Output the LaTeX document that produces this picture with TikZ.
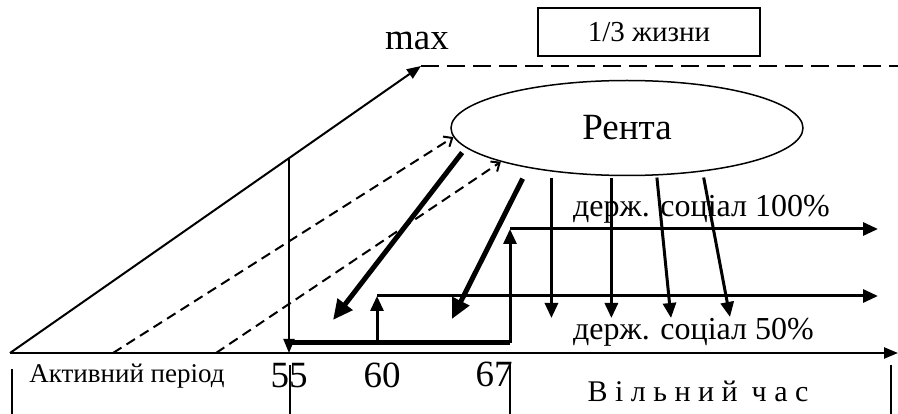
\documentclass[tikz,border=0pt]{standalone}
\usepackage{fontspec}
\setmainfont{Liberation Serif}
\usetikzlibrary{arrows.meta, shapes.geometric, positioning}
\tikzset{
  axisline/.style={line width=2.5pt, -{Triangle[length=14pt,width=11pt]}},
  thinarrow/.style={line width=2pt, -{Triangle[length=14pt,width=11pt]}},
  flow/.style={line width=3pt, -{Triangle[length=15pt,width=13pt]}},
  fatarrow/.style={line width=5pt, -{Triangle[length=20pt,width=18pt]}},
  dashline/.style={line width=2pt, dash pattern=on 10pt off 6pt, -{Straight Barb[length=7pt,width=12pt]}},
  tickline/.style={line width=1.8pt},
}
\begin{document}
\begin{tikzpicture}[x=1pt, y=-1pt,
  big/.style={font=\fontsize{37}{40}\selectfont, inner sep=0pt},
  mid/.style={font=\fontsize{32}{36}\selectfont, inner sep=0pt},
  small/.style={font=\fontsize{27}{30}\selectfont, inner sep=0pt}]
\useasboundingbox (0,0) rectangle (898,414);
% time axis and growth line
\coordinate (o) at (10,353);
\coordinate (xend) at (898,353);
\coordinate (peak) at (421,66);
\coordinate (maxend) at (898,66);
\draw[axisline] (o) -- (xend);
\draw[thinarrow] (o) -- (peak);
\draw[line width=2pt, dash pattern=on 18pt off 8pt] (peak) -- (maxend);
\node[big, anchor=base] (maxlbl) at (417,50) {max};
\node[draw, line width=1.8pt, minimum width=222pt, minimum height=48pt,
  font=\fontsize{29}{31}\selectfont] (third) at (649,32) {1/3 жизни};
\node[ellipse, draw, line width=1.5pt, big, minimum width=352pt, minimum height=95pt] (renta) at (627,128) {Рента};
% labels
\node[mid, anchor=base west] (soc100) at (573,217) {держ. соціал 100\%};
\node[mid, anchor=base west] (soc50) at (573,340) {держ. соціал 50\%};
\node[small, anchor=base] (active) at (127,382) {Активний період};
\node[big, anchor=base] (n55) at (289,388) {55};
\node[big, anchor=base] (n60) at (382,388) {60};
\node[big, anchor=base] (n67) at (494,387) {67};
\node[font=\fontsize{30}{32}\selectfont, inner sep=0pt, anchor=base] (free) at (698,402) {В і л ь н и й\hspace{14pt}ч а с};
\foreach \x/\y in {12/369, 290/365, 510/363, 891/365}
  \draw[tickline] (\x,\y) -- (\x,414);
% retirement at 55
\coordinate (r55) at (289,158);
\coordinate (a55) at (289,353);
\draw[thinarrow] (r55) -- (a55);
% pension steps
\coordinate (s55) at (289,343);
\coordinate (s60) at (377,343);
\coordinate (s67) at (510,343);
\coordinate (h50) at (377,296);
\coordinate (h100) at (510,229);
\coordinate (e50) at (878,296);
\coordinate (e100) at (878,229);
\draw[line width=5pt] (s55) -- (s67);
\draw[flow] (s60) -- (h50);
\draw[flow] (s67) -- (h100);
\draw[flow] (h50) -- (e50);
\draw[flow] (h100) -- (e100);
% contributions to the rent
\coordinate (d1) at (113,353);
\coordinate (d2) at (216,353);
\draw[dashline] (d1) -- (renta.183);
\draw[dashline] (d2) -- (renta.195);
% payments from the rent
\coordinate (fa) at (333,320);
\coordinate (fb) at (452,319);
\draw[fatarrow, shorten <=6pt] (renta.187) -- (fa);
\draw[fatarrow, shorten <=12pt] (renta.202) -- (fb);
\coordinate (lo) at (0,318);
\coordinate (v3) at (671,318);
\coordinate (v4) at (730,317);
\draw[flow, shorten <=6pt] (renta.210) -- (renta.210 |- lo);
\draw[flow, shorten <=2pt] (renta.252) -- (renta.252 |- lo);
\draw[flow, shorten <=2pt] (renta.302) -- (v3);
\draw[flow, shorten <=6pt] (renta.330) -- (v4);
\end{tikzpicture}
\end{document}
